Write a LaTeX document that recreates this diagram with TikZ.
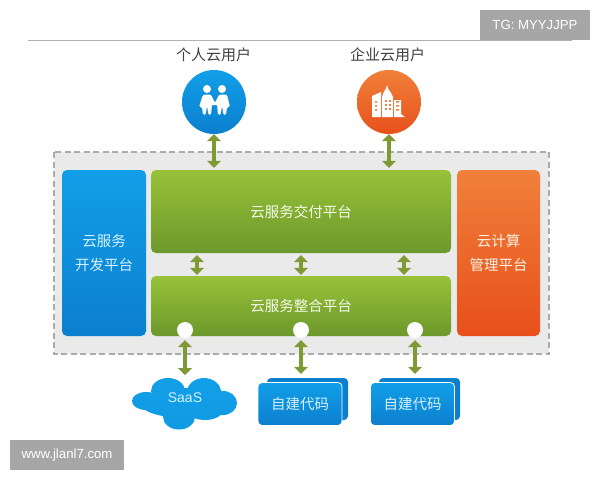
\documentclass[tikz,border=0pt]{standalone}
\usepackage{fontspec}
\setmainfont{Liberation Sans}
\newfontfamily\cjk{Noto Sans CJK SC}
\usepackage[svgnames]{xcolor}
\usetikzlibrary{
  arrows.meta}

\definecolor{panelgrey}{HTML}{EAEAEA}
\definecolor{markgrey}{HTML}{A6A6A6}
\definecolor{linkgreen}{HTML}{7D9A35}
\definecolor{labelblue}{HTML}{D5F1FF}
\definecolor{bluetop}{HTML}{119FE8}
\definecolor{bluebot}{HTML}{0C7FCF}
\definecolor{greentop}{HTML}{97C238}
\definecolor{greenbot}{HTML}{6D982C}
\definecolor{orangetop}{HTML}{F0803A}
\definecolor{orangebot}{HTML}{E8501B}

\tikzset{
  link/.style={line width=4.5pt, linkgreen, {Triangle[width=14pt,length=7pt]}-{Triangle[width=14pt,length=7pt]}},
  markbox/.style={fill=markgrey, text=white, font=\fontsize{13.2}{14}\selectfont, inner sep=0pt},
  bluebox/.style={rounded corners=5pt, top color=bluetop, bottom color=bluebot, minimum width=84pt, text=labelblue, font=\cjk\fontsize{14.5}{24}\selectfont, align=center, inner sep=0pt},
  greenbox/.style={rounded corners=5pt, top color=greentop, bottom color=greenbot, minimum width=300pt, text=white!90!YellowGreen, font=\cjk\fontsize{14.5}{16}\selectfont, inner sep=0pt},
  user/.style={circle, minimum size=64pt, inner sep=0pt},
  username/.style={text=black!75, font=\cjk\fontsize{15}{16}\selectfont, inner sep=0pt},
  port/.style={circle, fill=white, minimum size=16pt, inner sep=0pt},
  codebox/.style={rounded corners=4pt, minimum width=84pt, minimum height=43pt, inner sep=0pt, top color=bluetop, bottom color=bluebot, text=labelblue, draw=white, line width=.8pt, font=\cjk\fontsize{14.5}{16}\selectfont},
  codeback/.style={rounded corners=4pt, minimum width=81pt, minimum height=42pt, inner sep=0pt, fill=bluebot},
}

\begin{document}
\begin{tikzpicture}[x=1pt, y=-1pt]
\useasboundingbox (0,0) rectangle (600,480);
\fill[white] (0,0) rectangle (600,480);

\draw[black!30, line width=1pt] (28,40.5) -- (572,40.5);
\node[markbox, minimum width=110pt, minimum height=30pt] (tg) at (535,25) {TG: MYYJJPP};
\node[markbox, minimum width=114pt, minimum height=30pt] (site) at (67,455) {www.jlanl7.com};

\draw[fill=panelgrey, draw=black!33, line width=1.2pt, dash pattern=on 6pt off 3.5pt] (54,152) rectangle (549,354);

\node[bluebox, minimum height=166pt] (dev) at (104,253) {云服务\\开发平台};
\node[greenbox, minimum height=83pt] (deliver) at (301,211.5) {云服务交付平台};
\node[greenbox, minimum height=60pt] (merge) at (301,306) {云服务整合平台};
\node[rounded corners=5pt, minimum width=83pt, minimum height=166pt, inner sep=0pt, top color=orangetop, bottom color=orangebot, text=white!90!orange, font=\cjk\fontsize{14.5}{24}\selectfont, align=center] (admin) at (498.5,253) {云计算\\管理平台};

\node[username] (personlabel) at (213.5,55) {个人云用户};
\node[username] (companylabel) at (387.5,55) {企业云用户};
\node[user, top color=bluetop, bottom color=bluebot] (person) at (214,102) {};
\node[user, top color=orangetop, bottom color=orangebot] (company) at (389,102) {};

% people in the blue disc
\fill[white] (207,89) circle[radius=4] (222,89) circle[radius=4];
\fill[white, rounded corners=1.5pt] (203,94.5) -- (211,94.5) -- (215,103) -- (219,94.5) -- (227,94.5) -- (230,107) -- (227,107) -- (226,115) -- (223.5,115) -- (222,106) -- (220.5,115) -- (218,115) -- (217,104) -- (215,106) -- (212,104) -- (211,115) -- (208.5,115) -- (207,106) -- (205.5,115) -- (203,115) -- (202,107) -- (199,107) -- cycle;

% buildings in the orange disc
\fill[white] (372,96) -- (381,92) -- (381,117) -- (372,117) -- cycle;
\fill[white] (382,97) .. controls (383,91) and (386,91) .. (387,85) .. controls (388,91) and (391,91) .. (393,97) -- (393,117) -- (382,117) -- cycle;
\fill[white] (394,100) -- (401,100) -- (401,114) -- (405,117) -- (394,117) -- cycle;
\foreach \wx in {385,389}
  \foreach \wy in {100,104,108}
    \fill[orangetop] (\wx,\wy) rectangle ++(2,2);
\foreach \wy in {101,105,109}
  \fill[orangetop] (396,\wy) rectangle ++(3,1.5) (375,\wy) rectangle ++(2,1.5);

\node[port] (port1) at (185,330) {};
\node[port] (port2) at (301,330) {};
\node[port] (port3) at (415,330) {};

% cloud
\shade[top color=bluetop, bottom color=bluetop!85!bluebot]
  (185,403) ellipse[x radius=45, y radius=15]
  (168,391) ellipse[x radius=17, y radius=13]
  (204,392) ellipse[x radius=17, y radius=14]
  (146,401) ellipse[x radius=14, y radius=9]
  (223,403) ellipse[x radius=14, y radius=12]
  (179,417) ellipse[x radius=16, y radius=12.5]
  (205,410) ellipse[x radius=18, y radius=10];
\node[text=labelblue, font=\fontsize{14}{16}\selectfont, inner sep=0pt] (saas) at (185,398) {SaaS};
\coordinate (saastop) at (185,375);

\node[codeback] (back1) at (307.5,399) {};
\node[codebox] (code1) at (300,404) {自建代码};
\node[codeback] (back2) at (419.5,399) {};
\node[codebox] (code2) at (412.5,404) {自建代码};

\coordinate (top1) at (214,0);
\coordinate (top2) at (389,0);
\coordinate (mid1) at (197,0);
\coordinate (mid2) at (301,0);
\coordinate (mid3) at (404,0);

\draw[link] (person.south) -- ([yshift=2pt]top1 |- deliver.north);
\draw[link] (company.south) -- ([yshift=2pt]top2 |- deliver.north);
\foreach \n in {1,2,3}
  \draw[link] ([yshift=-2pt]mid\n |- deliver.south) -- ([yshift=1pt]mid\n |- merge.north);
\draw[link] ([yshift=-2pt]port1.south) -- (saastop);
\draw[link] ([yshift=-2pt]port2.south) -- ([yshift=4pt]port2 |- back1.north);
\draw[link] ([yshift=-2pt]port3.south) -- ([yshift=4pt]port3 |- back2.north);

\end{tikzpicture}
\end{document}
